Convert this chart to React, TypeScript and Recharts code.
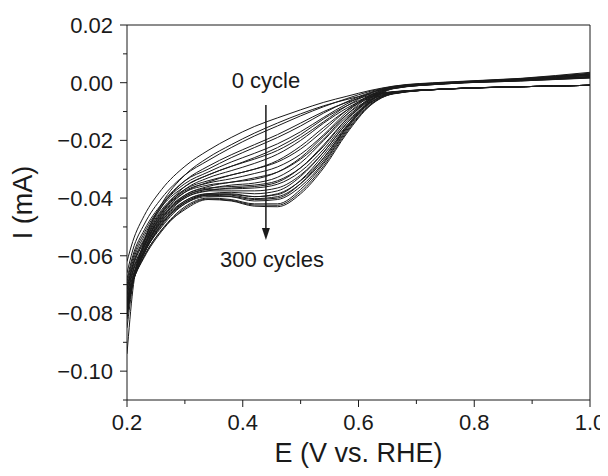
import React from "react";
import {
  LineChart,
  Line,
  XAxis,
  YAxis,
  ReferenceLine,
  ReferenceDot,
} from "recharts";

// potential grid (V vs. RHE) shared by every sweep
const potentials = [
  0.2, 0.21, 0.23, 0.26, 0.3, 0.34, 0.38, 0.42, 0.46, 0.5, 0.54, 0.58, 0.62,
  0.66, 0.75, 0.88, 1.0,
];

// anodic (upper) branches, 0 cycle -> 300 cycles, current in mA
const anodicSweeps = [
  [-0.062, -0.055, -0.046, -0.037, -0.029, -0.0235, -0.019, -0.0152, -0.0122, -0.0094, -0.0068, -0.0047, -0.0027, -0.0012, 0.0002, 0.0015, 0.0036],
  [-0.066, -0.058, -0.049, -0.04, -0.032, -0.027, -0.0225, -0.0185, -0.015, -0.0115, -0.0083, -0.0055, -0.003, -0.0013, 0.0001, 0.0014, 0.0033],
  [-0.068, -0.06, -0.051, -0.042, -0.034, -0.03, -0.026, -0.0225, -0.019, -0.015, -0.0105, -0.0066, -0.0034, -0.0014, 0.0, 0.0013, 0.0031],
  [-0.069, -0.061, -0.052, -0.0425, -0.035, -0.031, -0.0275, -0.0245, -0.0212, -0.017, -0.012, -0.0073, -0.0036, -0.0015, -0.0001, 0.0012, 0.003],
  [-0.07, -0.062, -0.053, -0.043, -0.036, -0.032, -0.029, -0.0265, -0.0235, -0.019, -0.0135, -0.008, -0.0038, -0.0015, -0.0001, 0.0012, 0.0029],
  [-0.071, -0.063, -0.054, -0.044, -0.037, -0.034, -0.032, -0.03, -0.0275, -0.023, -0.0165, -0.0095, -0.0043, -0.0016, -0.0002, 0.0011, 0.0027],
  [-0.0715, -0.0635, -0.0545, -0.0445, -0.0375, -0.0348, -0.0333, -0.0315, -0.0292, -0.0248, -0.018, -0.0102, -0.0045, -0.0016, -0.0002, 0.001, 0.0026],
  [-0.072, -0.064, -0.055, -0.045, -0.038, -0.0355, -0.0345, -0.033, -0.031, -0.0265, -0.0195, -0.011, -0.0048, -0.0017, -0.0002, 0.001, 0.0025],
  [-0.073, -0.065, -0.056, -0.046, -0.039, -0.0365, -0.036, -0.0355, -0.034, -0.0295, -0.022, -0.0125, -0.0052, -0.0018, -0.0003, 0.0009, 0.0022],
  [-0.0735, -0.0655, -0.0565, -0.0465, -0.0395, -0.037, -0.0368, -0.0365, -0.0352, -0.0308, -0.023, -0.0132, -0.0054, -0.0018, -0.0003, 0.0008, 0.0021],
  [-0.074, -0.066, -0.057, -0.047, -0.04, -0.0375, -0.0375, -0.0375, -0.0365, -0.032, -0.024, -0.014, -0.0057, -0.0019, -0.0003, 0.0008, 0.002],
  [-0.075, -0.067, -0.058, -0.048, -0.041, -0.0385, -0.0385, -0.0395, -0.0385, -0.034, -0.026, -0.015, -0.0062, -0.002, -0.0004, 0.0007, 0.0018],
  [-0.0755, -0.0675, -0.0585, -0.0485, -0.0415, -0.0388, -0.039, -0.0402, -0.0395, -0.035, -0.0268, -0.0155, -0.0064, -0.002, -0.0004, 0.0006, 0.0017],
  [-0.076, -0.068, -0.059, -0.049, -0.042, -0.039, -0.0395, -0.041, -0.0405, -0.036, -0.0275, -0.016, -0.0067, -0.0021, -0.0004, 0.0006, 0.0016],
];

// cathodic (lower) branches, 0 cycle -> 300 cycles
const cathodicSweeps = [
  [-0.094, -0.072, -0.055, -0.042, -0.032, -0.026, -0.0215, -0.0175, -0.014, -0.0108, -0.008, -0.0058, -0.004, -0.0031, -0.0022, -0.0014, -0.0009],
  [-0.085, -0.07, -0.055, -0.043, -0.034, -0.029, -0.025, -0.0215, -0.018, -0.014, -0.01, -0.0068, -0.0044, -0.0032, -0.0022, -0.0014, -0.0009],
  [-0.082, -0.069, -0.056, -0.045, -0.036, -0.032, -0.029, -0.026, -0.0225, -0.018, -0.0125, -0.008, -0.0048, -0.0032, -0.0022, -0.0014, -0.0009],
  [-0.081, -0.069, -0.0565, -0.0455, -0.037, -0.033, -0.0305, -0.028, -0.0248, -0.02, -0.014, -0.0088, -0.005, -0.0033, -0.0022, -0.0014, -0.0009],
  [-0.08, -0.069, -0.057, -0.046, -0.038, -0.0345, -0.032, -0.03, -0.027, -0.022, -0.0155, -0.0095, -0.0053, -0.0033, -0.0022, -0.0014, -0.0009],
  [-0.079, -0.069, -0.058, -0.047, -0.039, -0.036, -0.0345, -0.0335, -0.031, -0.026, -0.0185, -0.011, -0.0058, -0.0034, -0.0022, -0.0014, -0.0009],
  [-0.0785, -0.069, -0.058, -0.0475, -0.0395, -0.0368, -0.0355, -0.0348, -0.0328, -0.0278, -0.02, -0.0118, -0.006, -0.0035, -0.0022, -0.0014, -0.0009],
  [-0.078, -0.069, -0.058, -0.048, -0.04, -0.0375, -0.0365, -0.036, -0.0345, -0.0295, -0.0215, -0.0125, -0.0063, -0.0035, -0.0022, -0.0014, -0.0009],
  [-0.077, -0.069, -0.059, -0.049, -0.041, -0.0385, -0.038, -0.0385, -0.0375, -0.0325, -0.024, -0.014, -0.0068, -0.0036, -0.0022, -0.0014, -0.0009],
  [-0.077, -0.069, -0.059, -0.0495, -0.0415, -0.039, -0.0388, -0.0395, -0.0388, -0.0338, -0.025, -0.0148, -0.007, -0.0037, -0.0022, -0.0014, -0.0009],
  [-0.077, -0.069, -0.059, -0.05, -0.042, -0.0395, -0.0395, -0.0405, -0.04, -0.035, -0.026, -0.0155, -0.0072, -0.0037, -0.0022, -0.0014, -0.0009],
  [-0.076, -0.069, -0.06, -0.051, -0.043, -0.04, -0.0405, -0.042, -0.042, -0.037, -0.028, -0.0165, -0.0076, -0.0038, -0.0022, -0.0014, -0.0009],
  [-0.076, -0.069, -0.0605, -0.0515, -0.0435, -0.0403, -0.0408, -0.0424, -0.0425, -0.0378, -0.0288, -0.017, -0.0078, -0.0038, -0.0022, -0.0014, -0.0009],
  [-0.076, -0.069, -0.06, -0.051, -0.044, -0.0405, -0.041, -0.0428, -0.043, -0.0385, -0.0295, -0.0175, -0.008, -0.0039, -0.0022, -0.0014, -0.0009],
];

const xTicks = [0.2, 0.3, 0.4, 0.5, 0.6, 0.7, 0.8, 0.9, 1.0];
const yTicks = [
  0.02, 0.01, 0.0, -0.01, -0.02, -0.03, -0.04, -0.05, -0.06, -0.07, -0.08,
  -0.09, -0.1, -0.11,
];

const FONT = "'Liberation Sans', Arial, sans-serif";
const INK = "#1a1a1a";

const toRows = (vals: number[]) =>
  potentials.map((e, i) => ({ e, i: vals[i] }));

const sweeps = [...cathodicSweeps, ...anodicSweeps].map(toRows);

const XTick = (props: any) => {
  const { x, y, payload } = props;
  const major = Math.round(payload.value * 10) % 2 === 0;
  return (
    <g>
      <line x1={x} x2={x} y1={y} y2={y + (major ? 7 : 4)} stroke={INK} />
      {major && (
        <text x={x} y={y + 30} textAnchor="middle" fontSize={22} fill={INK} fontFamily={FONT}>
          {payload.value.toFixed(1)}
        </text>
      )}
    </g>
  );
};

const YTick = (props: any) => {
  const { x, y, payload } = props;
  const major = Math.round(payload.value * 100) % 2 === 0;
  const label = Math.abs(payload.value) < 1e-9 ? "0.00" : payload.value.toFixed(2).replace("-", "\u2212");
  return (
    <g>
      <line x1={x} x2={x - (major ? 7 : 4)} y1={y} y2={y} stroke={INK} />
      {major && (
        <text x={x - 14} y={y + 8} textAnchor="end" fontSize={22} fill={INK} fontFamily={FONT}>
          {label}
        </text>
      )}
    </g>
  );
};

export default function App() {
  return (
    <LineChart
      width={600}
      height={460}
      margin={{ top: 17, right: 18, left: 0, bottom: 0 }}
    >
      <XAxis
        type="number"
        dataKey="e"
        domain={[0.2, 1.0]}
        ticks={xTicks}
        interval={0}
        tickSize={0}
        tickMargin={0}
        tick={<XTick />}
        tickLine={false}
        axisLine={{ stroke: INK }}
        height={68}
        allowDataOverflow
        label={{
          content: (p: any) => (
            <text
              x={p.viewBox.x + p.viewBox.width / 2}
              y={p.viewBox.y + 62}
              textAnchor="middle"
              fontSize={27}
              fill={INK}
              fontFamily={FONT}
            >
              E (V vs. RHE)
            </text>
          ),
        }}
      />
      <YAxis
        type="number"
        domain={[-0.11, 0.02]}
        ticks={yTicks}
        interval={0}
        tickSize={0}
        tickMargin={0}
        tick={<YTick />}
        tickLine={false}
        axisLine={{ stroke: INK }}
        width={119}
        allowDataOverflow
        label={{
          content: (p: any) => {
            const cx = p.viewBox.x + 15;
            const cy = p.viewBox.y + p.viewBox.height / 2 - 10;
            return (
              <text
                x={cx}
                y={cy}
                transform={`rotate(-90, ${cx}, ${cy})`}
                textAnchor="middle"
                dominantBaseline="central"
                fontSize={27}
                fill={INK}
                fontFamily={FONT}
              >
                I (mA)
              </text>
            );
          },
        }}
      />
      <ReferenceLine x={1.0} stroke={INK} />
      <ReferenceLine y={0.02} stroke={INK} />
      {sweeps.map((rows, idx) => (
        <Line
          key={idx}
          data={rows}
          dataKey="i"
          type="monotone"
          stroke={INK}
          strokeWidth={1}
          dot={false}
          activeDot={false}
          isAnimationActive={false}
        />
      ))}
      <ReferenceLine
        segment={[
          { x: 0.44, y: -0.0077 },
          { x: 0.44, y: -0.051 },
        ]}
        stroke={INK}
        strokeWidth={1.5}
      />
      <ReferenceDot
        x={0.44}
        y={-0.0545}
        r={0}
        shape={(p: any) => (
          <polygon
            points={`${p.cx - 4},${p.cy - 12} ${p.cx + 4},${p.cy - 12} ${p.cx},${p.cy}`}
            fill={INK}
          />
        )}
      />
      <ReferenceDot
        x={0.44}
        y={-0.0018}
        r={0}
        shape={(p: any) => (
          <text x={p.cx} y={p.cy} textAnchor="middle" fontSize={22} fill={INK} fontFamily={FONT}>
            0 cycle
          </text>
        )}
      />
      <ReferenceDot
        x={0.4505}
        y={-0.0639}
        r={0}
        shape={(p: any) => (
          <text x={p.cx} y={p.cy} textAnchor="middle" fontSize={22} fill={INK} fontFamily={FONT}>
            300 cycles
          </text>
        )}
      />
    </LineChart>
  );
}
